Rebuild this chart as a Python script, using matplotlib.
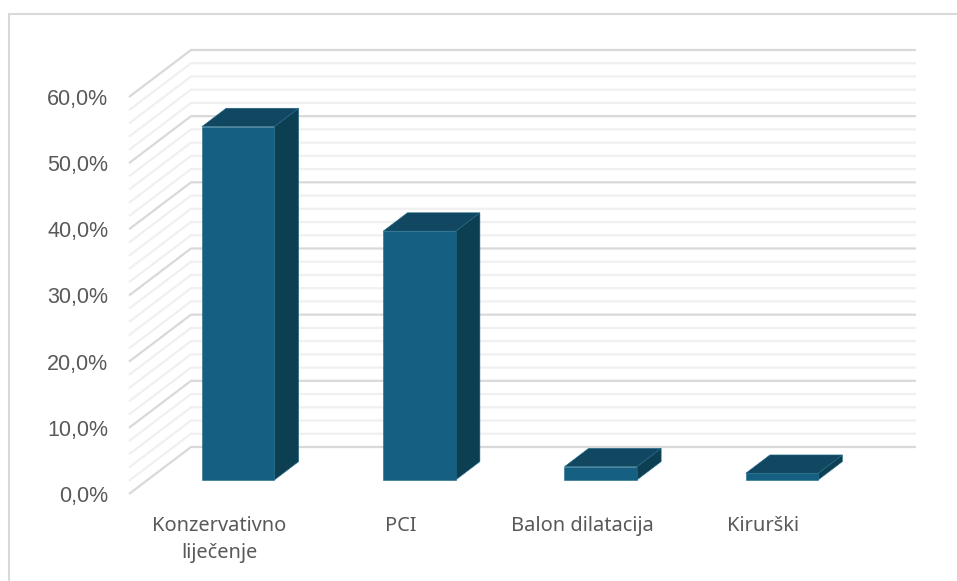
"""3D-style column chart drawn on a flat axes with an oblique depth offset."""

import matplotlib

matplotlib.use("Agg")

import matplotlib.pyplot as plt
from matplotlib.lines import Line2D
from matplotlib.patches import Polygon

categories = ["Konzervativno\nliječenje", "PCI", "Balon dilatacija", "Kirurški"]
values = [53.4, 37.6, 2.0, 1.0]
major_ticks = [0, 10, 20, 30, 40, 50, 60]
minor_ticks = [2, 4, 6, 8, 12, 14, 16, 18, 22, 24, 26, 28, 32, 34, 36, 38,
               42, 44, 46, 48, 52, 54, 56, 58]

W, H = 957, 581
# axes box = front edge of the floor/wall, in pixels
LEFT, RIGHT, BOTTOM, TOP = 129, 854, 494, 97
# shift of the back wall against the front edge, in pixels
DEPTH_X, DEPTH_Y = 62, 47
BAR_WIDTH = 0.4
BAR_D0, BAR_D1 = 0.30, 0.69

FRONT = "#156082"
SIDE = "#0d3f52"
TOPC = "#114761"
EDGE = "#1f6a88"
TEXT = "#595959"

plt.rcParams["font.family"] = ["Noto Sans", "DejaVu Sans"]

fig = plt.figure(figsize=(W / 100, H / 100), dpi=100)
ax = fig.add_axes([LEFT / W, 1 - BOTTOM / H, (RIGHT - LEFT) / W, (BOTTOM - TOP) / H])
ax.set_xlim(0, len(categories))
ax.set_ylim(0, 60)

# depth offsets in data units
ux = (RIGHT - LEFT) / len(categories)
uy = (BOTTOM - TOP) / 60
dx = DEPTH_X / ux
dy = DEPTH_Y / uy


def project(x, y, d):
    return x + dx * d, y + dy * d


def wall_line(y, color, z):
    xs = [0, dx, dx + len(categories)]
    ys = [y, y + dy, y + dy]
    ax.plot(xs, ys, color=color, lw=1.6, clip_on=False, zorder=z,
            solid_joinstyle="miter", solid_capstyle="butt")


for y in minor_ticks:
    wall_line(y, "#f0f0f0", 1)
for y in major_ticks:
    wall_line(y, "#d9d9d9", 2)

for i, v in enumerate(values):
    x0 = i + 0.5 - BAR_WIDTH / 2
    x1 = i + 0.5 + BAR_WIDTH / 2
    front = [project(x0, 0, BAR_D0), project(x1, 0, BAR_D0),
             project(x1, v, BAR_D0), project(x0, v, BAR_D0)]
    side = [project(x1, 0, BAR_D0), project(x1, 0, BAR_D1),
            project(x1, v, BAR_D1), project(x1, v, BAR_D0)]
    top = [project(x0, v, BAR_D0), project(x1, v, BAR_D0),
           project(x1, v, BAR_D1), project(x0, v, BAR_D1)]
    for pts, col in ((side, SIDE), (top, TOPC), (front, FRONT)):
        ax.add_patch(Polygon(pts, closed=True, facecolor=col, edgecolor=EDGE,
                             lw=0.4, clip_on=False, zorder=3))

for s in ax.spines.values():
    s.set_visible(False)
ax.patch.set_visible(False)

ax.set_yticks(major_ticks)
ax.set_yticklabels([f"{t:.1f}%".replace(".", ",") for t in major_ticks],
                   family=["Liberation Sans", "DejaVu Sans"])
ax.set_xticks([i + 0.5 for i in range(len(categories))])
ax.set_xticklabels(categories, linespacing=1.45)
ax.tick_params(axis="y", length=0, pad=15, labelsize=15.5, labelcolor=TEXT)
ax.tick_params(axis="x", length=0, pad=16, labelsize=14.4, labelcolor=TEXT)

# chart frame: only top and left show, the rest is cropped away
fig.add_artist(Line2D([9 / W, 9 / W, 1], [0, 1 - 14 / H, 1 - 14 / H],
                      color="#d9d9d9", lw=1.5, solid_joinstyle="miter"))

fig.savefig("out.png", dpi=100)
